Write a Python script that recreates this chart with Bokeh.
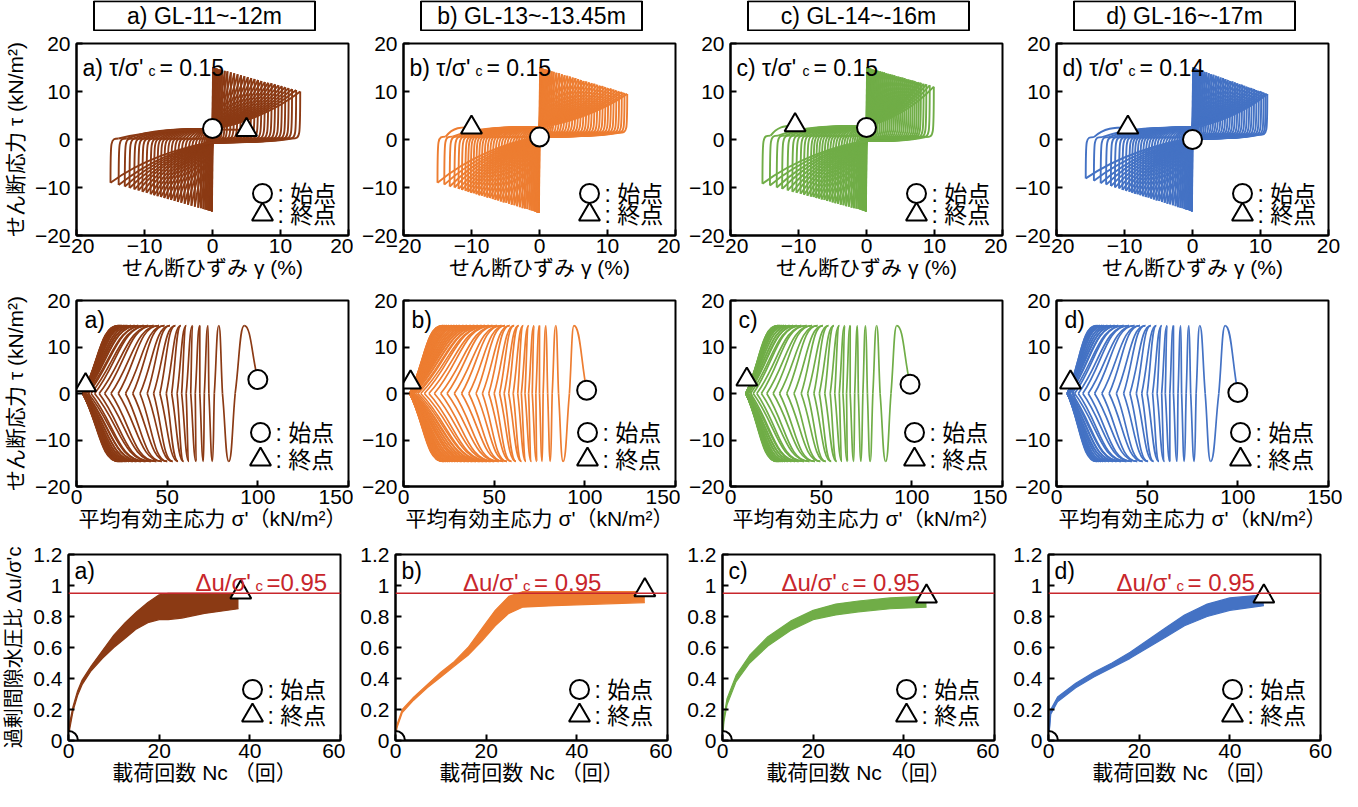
import numpy as np
from bokeh.plotting import figure
from bokeh.layouts import row, column
from bokeh.models import FixedTicker, CustomJSTickFormatter, Label, Span
from bokeh.core.properties import value
from bokeh.embed import file_html
from bokeh.resources import INLINE

# ---------------- data ----------------
headers = ["a) GL-11~-12m", "b) GL-13~-13.45m", "c) GL-14~-16m", "d) GL-16~-17m"]
tags = ["a)", "b)", "c)", "d)"]
stress_ratio = ["0.15", "0.15", "0.15", "0.14"]
colors = ["#8B3A14", "#ED7D31", "#70AD47", "#4472C4"]
RED = "#C8262C"

x1_ticks = [-20, -10, 0, 10, 20]
y12_ticks = [-20, -10, 0, 10, 20]
x2_ticks = [0, 50, 100, 150]
x3_ticks = [0, 20, 40, 60]
y3_ticks = [0, 0.2, 0.4, 0.6, 0.8, 1.0, 1.2]
du_limit = 0.95

# Row 1: shear stress - shear strain, peak of every loop (strain %, stress kN/m2)
gp_a = [0.08, 0.1, 0.12, 0.15, 0.2, 0.25, 0.3, 0.4, 0.5, 0.65, 0.85, 1.1, 1.4, 1.8, 2.2, 2.7, 3.2, 3.7, 4.2, 4.7, 5.2, 5.7, 6.2, 6.7, 7.2, 7.7, 8.2, 8.7, 9.2, 9.7, 10.2, 10.7, 11.2, 11.7, 12.3, 12.9]
tp_a = [15, 15, 15, 14.9, 14.9, 14.9, 14.9, 14.8, 14.8, 14.8, 14.7, 14.6, 14.5, 14.3, 14.2, 14.0, 13.8, 13.6, 13.4, 13.2, 13.0, 12.8, 12.6, 12.4, 12.2, 12.0, 11.8, 11.7, 11.5, 11.3, 11.1, 10.9, 10.7, 10.5, 10.3, 10.0]
gn_a = [-0.08, -0.1, -0.13, -0.17, -0.22, -0.28, -0.35, -0.45, -0.6, -0.8, -1.05, -1.35, -1.7, -2.1, -2.6, -3.1, -3.6, -4.1, -4.6, -5.1, -5.6, -6.1, -6.6, -7.1, -7.6, -8.1, -8.6, -9.1, -9.7, -10.3, -10.9, -11.5, -12.2, -12.9, -13.8, -15.0]
tn_a = [-15, -15, -14.9, -14.9, -14.9, -14.9, -14.9, -14.8, -14.8, -14.7, -14.6, -14.5, -14.3, -14.2, -14.0, -13.8, -13.6, -13.4, -13.2, -13.0, -12.8, -12.6, -12.4, -12.2, -12.0, -11.8, -11.6, -11.4, -11.1, -10.9, -10.6, -10.4, -10.1, -9.8, -9.5, -9.0]

gp_b = [0.08, 0.1, 0.12, 0.15, 0.2, 0.25, 0.3, 0.38, 0.48, 0.6, 0.75, 0.95, 1.2, 1.5, 1.8, 2.1, 2.5, 2.9, 3.3, 3.7, 4.1, 4.5, 4.9, 5.3, 5.7, 6.1, 6.5, 6.9, 7.3, 7.7, 8.1, 8.5, 8.9, 9.3, 9.7, 10.1, 10.5, 10.9, 11.3, 11.7, 12.1, 12.5, 12.9]
tp_b = [15, 15, 14.9, 14.9, 14.9, 14.9, 14.9, 14.8, 14.8, 14.7, 14.7, 14.6, 14.5, 14.4, 14.2, 14.1, 13.9, 13.8, 13.6, 13.4, 13.3, 13.1, 12.9, 12.8, 12.6, 12.4, 12.2, 12.1, 11.9, 11.7, 11.6, 11.4, 11.2, 11.1, 10.9, 10.7, 10.6, 10.4, 10.2, 10.0, 9.9, 9.7, 9.5]
gn_b = [-0.08, -0.1, -0.13, -0.17, -0.22, -0.28, -0.35, -0.44, -0.55, -0.7, -0.9, -1.15, -1.45, -1.8, -2.15, -2.5, -2.9, -3.3, -3.7, -4.1, -4.5, -4.9, -5.3, -5.7, -6.1, -6.5, -6.9, -7.3, -7.7, -8.1, -8.5, -8.9, -9.3, -9.7, -10.1, -10.5, -10.9, -11.4, -11.9, -12.5, -13.2, -14.0, -15.0]
tn_b = [-15.3, -15.3, -15.2, -15.2, -15.2, -15.2, -15.2, -15.1, -15.1, -15.0, -14.9, -14.8, -14.7, -14.5, -14.4, -14.3, -14.1, -13.9, -13.7, -13.6, -13.4, -13.2, -13.1, -12.9, -12.7, -12.6, -12.4, -12.2, -12.1, -11.9, -11.7, -11.6, -11.4, -11.2, -11.1, -10.9, -10.7, -10.5, -10.3, -10.0, -9.8, -9.4, -9.0]

gp_c = [0.08, 0.1, 0.12, 0.15, 0.2, 0.25, 0.3, 0.38, 0.48, 0.6, 0.75, 0.95, 1.2, 1.45, 1.7, 2.0, 2.3, 2.6, 2.9, 3.2, 3.5, 3.8, 4.1, 4.4, 4.7, 5.0, 5.3, 5.6, 5.9, 6.2, 6.5, 6.8, 7.1, 7.4, 7.7, 8.0, 8.4, 8.8, 9.3, 9.9]
tp_c = [15, 15, 15, 14.9, 14.9, 14.9, 14.9, 14.8, 14.8, 14.8, 14.7, 14.6, 14.5, 14.4, 14.3, 14.2, 14.1, 14.0, 13.8, 13.7, 13.6, 13.5, 13.4, 13.2, 13.1, 13.0, 12.9, 12.8, 12.6, 12.5, 12.4, 12.3, 12.2, 12.0, 11.9, 11.8, 11.6, 11.5, 11.3, 11.0]
gn_c = [-0.08, -0.1, -0.13, -0.17, -0.22, -0.28, -0.35, -0.45, -0.58, -0.75, -0.95, -1.2, -1.5, -1.85, -2.2, -2.6, -3.0, -3.4, -3.8, -4.2, -4.6, -5.0, -5.4, -5.8, -6.2, -6.6, -7.0, -7.4, -7.8, -8.2, -8.7, -9.2, -9.7, -10.3, -10.9, -11.6, -12.4, -13.2, -14.2, -15.3]
tn_c = [-15, -15, -15, -14.9, -14.9, -14.9, -14.9, -14.8, -14.8, -14.7, -14.6, -14.5, -14.4, -14.3, -14.2, -14.0, -13.9, -13.7, -13.6, -13.4, -13.3, -13.1, -12.9, -12.8, -12.6, -12.5, -12.3, -12.2, -12.0, -11.9, -11.7, -11.5, -11.3, -11.1, -10.9, -10.6, -10.3, -10.0, -9.6, -9.2]

gp_d = [0.08, 0.1, 0.12, 0.15, 0.2, 0.25, 0.3, 0.38, 0.48, 0.6, 0.75, 0.95, 1.2, 1.45, 1.75, 2.05, 2.4, 2.75, 3.1, 3.45, 3.8, 4.15, 4.5, 4.85, 5.2, 5.55, 5.9, 6.25, 6.6, 6.95, 7.3, 7.65, 8.0, 8.35, 8.7, 9.05, 9.4, 9.75, 10.1, 10.45, 10.75, 11.0]
tp_d = [15, 15, 14.9, 14.9, 14.9, 14.9, 14.9, 14.8, 14.8, 14.7, 14.6, 14.5, 14.4, 14.3, 14.1, 14.0, 13.8, 13.6, 13.5, 13.3, 13.1, 12.9, 12.8, 12.6, 12.4, 12.2, 12.1, 11.9, 11.7, 11.5, 11.4, 11.2, 11.0, 10.8, 10.7, 10.5, 10.3, 10.1, 10.0, 9.8, 9.6, 9.5]
gn_d = [-0.08, -0.1, -0.13, -0.17, -0.22, -0.28, -0.35, -0.45, -0.58, -0.75, -0.95, -1.2, -1.5, -1.8, -2.15, -2.5, -2.9, -3.3, -3.7, -4.1, -4.5, -4.9, -5.3, -5.7, -6.1, -6.5, -6.9, -7.3, -7.7, -8.1, -8.5, -8.9, -9.3, -9.8, -10.3, -10.8, -11.4, -12.0, -12.7, -13.5, -14.5, -15.7]
tn_d = [-15, -15, -14.9, -14.9, -14.9, -14.9, -14.8, -14.8, -14.7, -14.7, -14.6, -14.5, -14.3, -14.2, -14.1, -13.9, -13.7, -13.5, -13.4, -13.2, -13.0, -12.8, -12.7, -12.5, -12.3, -12.1, -12.0, -11.8, -11.6, -11.4, -11.3, -11.1, -10.9, -10.7, -10.5, -10.2, -10.0, -9.7, -9.4, -9.1, -8.6, -8.1]

start1 = [(0, 2.3), (0, 0.5), (0, 2.5), (0, 0.0)]
end1 = [(5, 2.0), (-10, 2.5), (-10.5, 3.0), (-9.5, 2.5)]
slide_load = [2.2, 2.6, 2.8, 2.5]
slide_unload = [-0.6, 0.6, -0.3, 0.2]

# Row 2: stress path, mean effective stress at each stress peak (alternating +/-) and at each tau=0 crossing
tau_peak = 14.6
peaks_a = [92.5, 84, 78.5, 75, 72.5, 70, 68, 66, 64, 62, 60.5, 59, 57.5, 56, 54.5, 53, 51.5, 50, 48.5, 47, 45.5, 44, 42.5, 41, 39.5, 38, 37, 35.5, 34, 33, 32, 31, 30, 29, 28, 27.5, 27, 26.5, 26, 25.5, 25, 25, 24.5, 24.5, 24, 24, 23.5, 23.5, 23, 23]
cross_a = [87.5, 80.5, 76, 73, 70.5, 68, 65.5, 63, 60.5, 58, 55.5, 52.5, 49.5, 46, 42.5, 39, 35, 31, 27, 23, 19, 15.5, 12.5, 10, 8, 6.5, 5.5, 5, 4.5, 4.5, 4, 4, 4, 4, 4, 4, 3.5, 3.5, 3.5, 3.5, 3.5, 3.5, 3.5, 3.5, 3.5, 3.5, 3.5, 3.5, 3.5]
peaks_b = [94, 88, 84, 81, 78.5, 76.5, 75, 73.5, 72, 70.5, 69, 67.5, 66, 65, 63.5, 62, 61, 59.5, 58.5, 57, 56, 55, 54, 52.5, 51.5, 50, 49, 48, 47, 46, 45, 44, 43, 42, 41, 40, 39, 38, 37, 36, 35, 34, 33, 32, 31, 30, 29.5, 28.5, 28, 27, 26.5, 25.5, 25, 24.5, 24, 23.5, 23, 22.5, 22, 22, 21.5, 21.5]
cross_b = [91.5, 85.5, 82, 79.5, 77, 75, 73, 71, 69, 67, 65, 63, 60.5, 58, 55.5, 53, 50, 47, 43.5, 40, 36, 32, 28, 24, 20.5, 17, 14, 11.5, 9.5, 8, 7, 6, 5.5, 5, 4.5, 4.5, 4, 4, 4, 4, 3.5, 3.5, 3.5, 3.5, 3.5, 3.5, 3.5, 3.5, 3.5, 3.5, 3.5, 3.5, 3.5, 3.5, 3.5, 3.5, 3.5, 3.5, 3.5, 3.5, 3.5]
peaks_c = [91.7, 85.6, 80.6, 77, 74.5, 72, 70, 68, 66, 64.5, 63, 61.5, 60, 58.5, 57, 55.5, 54, 52.5, 51, 49.5, 48, 46.5, 45, 43.5, 42, 40.5, 39, 37.5, 36.5, 35.5, 34.5, 33.5, 32.5, 31.5, 30.5, 30, 29.5, 29, 28.5, 28, 27.5, 27, 27, 26.5, 26.5, 26, 26, 25.5]
cross_c = [88.5, 82.5, 78.5, 75.5, 73, 70.5, 68.5, 66, 64, 62, 60, 57.5, 55, 52, 49, 46, 42.5, 39, 35, 31, 27, 23.5, 20, 17, 14.5, 12.5, 11, 10, 9.5, 9, 9, 8.5, 8.5, 8.5, 8.5, 8.5, 8.5, 8.5, 8.5, 8.5, 8.5, 8.5, 8.5, 8.5, 8.5, 8.5, 8.5]
peaks_d = [93, 85, 79, 76, 73, 70.5, 68.5, 66.5, 64.5, 62.5, 61, 59.5, 58, 56.5, 55, 53.5, 52, 50.5, 49, 47.5, 46, 44.5, 43, 41.5, 40, 38.5, 37, 35.5, 34, 33, 32, 31, 30, 29, 28, 27, 26, 25.5, 25, 24.5, 24, 23.5, 23, 22.5, 22, 22]
cross_d = [89.5, 82, 77, 74, 71.5, 69, 67, 64.5, 62.5, 60, 58, 55.5, 53, 50, 47, 44, 40.5, 37, 33, 29, 25, 21, 17.5, 14.5, 12, 10, 8.5, 7.5, 7, 6.5, 6, 6, 6, 6, 6, 6, 6, 6, 6, 6, 6, 6, 6, 6, 6]
start2 = [(100, 3.0), (101, 0.7), (99, 2.0), (100, 0.2)]
end2 = [(5, 1.8), (3.9, 2.4), (9, 3.0), (7.7, 2.4)]

# Row 3: excess pore water pressure ratio, envelope of the oscillating record
n_a = [0, 0.3, 1, 2, 3, 5, 7.5, 10, 12.5, 15, 17.5, 20, 22, 25, 30, 37.5]
up_a = [0, 0.12, 0.22, 0.32, 0.39, 0.48, 0.58, 0.68, 0.76, 0.83, 0.89, 0.94, 0.95, 0.95, 0.95, 0.95]
lo_a = [0, 0.08, 0.19, 0.29, 0.36, 0.45, 0.53, 0.60, 0.66, 0.72, 0.76, 0.78, 0.78, 0.79, 0.82, 0.85]
n_b = [0, 0.3, 1.5, 4, 7, 10, 13, 16, 19, 22, 25, 28, 35, 45, 55]
up_b = [0, 0.1, 0.2, 0.28, 0.36, 0.44, 0.51, 0.6, 0.72, 0.84, 0.93, 0.96, 0.96, 0.96, 0.96]
lo_b = [0, 0.08, 0.18, 0.26, 0.34, 0.41, 0.48, 0.55, 0.64, 0.74, 0.82, 0.86, 0.87, 0.88, 0.89]
n_c = [0, 0.3, 1, 3, 6, 10, 15, 20, 25, 30, 37, 45]
up_c = [0, 0.15, 0.27, 0.42, 0.55, 0.67, 0.77, 0.84, 0.88, 0.9, 0.92, 0.93]
lo_c = [0, 0.12, 0.23, 0.38, 0.5, 0.61, 0.71, 0.78, 0.81, 0.83, 0.85, 0.86]
n_d = [0, 0.5, 2, 6, 10, 14, 18, 22, 26, 30, 35, 40, 47.5]
up_d = [0, 0.2, 0.28, 0.37, 0.44, 0.5, 0.57, 0.65, 0.73, 0.81, 0.88, 0.92, 0.94]
lo_d = [0, 0.17, 0.25, 0.34, 0.41, 0.47, 0.53, 0.6, 0.67, 0.74, 0.8, 0.84, 0.87]
end3 = [(38, 0.955), (55, 0.97), (45, 0.93), (47.5, 0.93)]
du_label_n = [28, 14.9, 13, 15]
du_eq = ["=0.95", "= 0.95", "= 0.95", "= 0.95"]

G1 = [(gp_a, tp_a, gn_a, tn_a), (gp_b, tp_b, gn_b, tn_b), (gp_c, tp_c, gn_c, tn_c), (gp_d, tp_d, gn_d, tn_d)]
P2 = [(peaks_a, cross_a), (peaks_b, cross_b), (peaks_c, cross_c), (peaks_d, cross_d)]
R3 = [(n_a, up_a, lo_a), (n_b, up_b, lo_b), (n_c, up_c, lo_c), (n_d, up_d, lo_d)]

# ---------------- layout / style ----------------
FONT = "'Liberation Sans', 'Noto Sans CJK JP', sans-serif"
W = 272
LB = [68, 50, 50, 49]
RB = [5, 5, 5, 14]
FL = [76, 403, 730, 1056]  # frame left on the page
H1, H2, H3 = 192, 186, 186
TOTAL_W = sum(LB) + 4 * W + sum(RB)


def make_fig(ci, H, top, bottom, xr, yr):
    p = figure(frame_width=W, frame_height=H, x_range=xr, y_range=yr,
               output_backend="svg", toolbar_location=None, tools="",
               min_border_left=LB[ci], min_border_right=RB[ci],
               min_border_top=top, min_border_bottom=bottom)
    p.title.visible = False
    p.xgrid.visible = False
    p.ygrid.visible = False
    p.outline_line_color = "black"
    p.outline_line_width = 2
    p.outline_line_alpha = 1
    p.background_fill_color = "white"
    p.border_fill_color = "white"
    return p


def style_axes(p, xt, yt, xlabel, ylabel):
    p.xaxis.ticker = FixedTicker(ticks=xt)
    p.yaxis.ticker = FixedTicker(ticks=yt)
    for ax in list(p.xaxis) + list(p.yaxis):
        ax.major_tick_in = 6
        ax.major_tick_out = 0
        ax.minor_tick_line_color = None
        ax.axis_line_width = 2
        ax.major_tick_line_width = 2
        ax.major_label_text_font = FONT
        ax.major_label_text_font_size = "21px"
        ax.major_label_text_color = "black"
        ax.axis_label_text_font = FONT
        ax.axis_label_text_font_size = "21px"
        ax.axis_label_text_font_style = "normal"
        ax.axis_label_text_color = "black"
    p.xaxis.major_label_standoff = 3
    p.xaxis.axis_label_standoff = 0
    p.yaxis.major_label_standoff = 6
    p.yaxis.axis_label_standoff = 5
    p.xaxis.axis_label = xlabel
    if ylabel:
        p.yaxis.axis_label = ylabel


def pos(xr, yr, H, px, py):
    return xr[0] + px * (xr[1] - xr[0]) / W, yr[1] - py * (yr[1] - yr[0]) / H


def label(p, x, y, text, size, color="black", xo=0, align="left", baseline="middle"):
    p.add_layout(Label(x=x, y=y, text=text, text_font=FONT, text_font_size=f"{size}px",
                       text_color=color, x_offset=xo, text_align=align, text_baseline=baseline))


def legend(p, xr, yr, H, px, py1, py2):
    x, y1 = pos(xr, yr, H, px, py1)
    _, y2 = pos(xr, yr, H, px, py2)
    p.scatter([x], [y1], marker="circle", size=19, fill_color="white", line_color="black", line_width=2)
    p.scatter([x], [y2], marker="triangle", size=21, fill_color="white", line_color="black", line_width=2)
    label(p, x, y1, ":  始点", 23, xo=15)
    label(p, x, y2, ":  終点", 23, xo=15)


def start_end(p, s, e):
    p.scatter([s[0]], [s[1]], marker="circle", size=19, fill_color="white", line_color="black", line_width=2)
    p.scatter([e[0]], [e[1]], marker="triangle", size=21, fill_color="white", line_color="black", line_width=2)


class Path:
    def __init__(self):
        self.b = {k: [] for k in ("x0", "y0", "x1", "y1", "cx0", "cy0", "cx1", "cy1")}

    def bez(self, p0, c0, c1, p1):
        for k, v in zip(("x0", "y0", "cx0", "cy0", "cx1", "cy1", "x1", "y1"), (*p0, *c0, *c1, *p1)):
            self.b[k].append(v)

    def draw(self, p, color, width):
        p.bezier(line_color=color, line_width=width, **self.b)


def loops_row1(gp, tp, gn, tn, a, b, start, end):
    path = Path()

    def curve(s, P):
        path.bez(s, (s[0] + 0.3 * (P[0] - s[0]), s[1] + 0.1 * (P[1] - s[1])),
                 (s[0] + 0.7 * (P[0] - s[0]), s[1] + 0.45 * (P[1] - s[1])), P)

    def turn(P, lvl, band, direction):
        r = min(1.2, 0.3 * abs(P[0]) + 0.05)
        q = (P[0] + direction * r, lvl + band)
        path.bez(P, (P[0], lvl + band), (P[0], lvl + band), q)
        if q[0] * direction < 0:
            x = q[0]
            path.bez(q, (x * 0.7, lvl), (x * 0.4, lvl), (0, lvl))
            return (0, lvl)
        return q

    n = len(gp)
    curve(start, (gp[0], tp[0]))
    for k in range(n):
        s = turn((gp[k], tp[k]), b, 0.8, -1)
        curve(s, (gn[k], tn[k]))
        if k + 1 < n:
            s = turn((gn[k], tn[k]), a, -2.0, 1)
            curve(s, (gp[k + 1], tp[k + 1]))
    r = min(1.2, 0.3 * abs(gn[-1]) + 0.05)
    q = (gn[-1] + r, a - 2.0)
    path.bez((gn[-1], tn[-1]), (gn[-1], a - 2.0), (gn[-1], a - 2.0), q)
    path.bez(q, (q[0] + 0.3 * (end[0] - q[0]), a), (q[0] + 0.6 * (end[0] - q[0]), a), end)
    return path


def path_row2(peaks, cross, start, end):
    path = Path()
    n = min(len(peaks), len(cross) + 1)

    def c2p(c, P):
        path.bez(c, (c[0] + 0.45 * (P[0] - c[0]), c[1] + 0.45 * (P[1] - c[1])),
                 (P[0] + 0.5 * (c[0] - P[0]), P[1]), P)

    def p2c(P, c):
        path.bez(P, (P[0] + 0.5 * (c[0] - P[0]), P[1]),
                 (c[0] + 0.45 * (P[0] - c[0]), c[1] + 0.45 * (P[1] - c[1])), c)

    prev = start
    for i in range(n):
        P = (peaks[i], tau_peak if i % 2 == 0 else -tau_peak)
        c2p(prev, P)
        nxt = (cross[i], 0.0) if i < n - 1 else end
        p2c(P, nxt)
        prev = nxt
    return path


# header strip with the four depth boxes
HDR_H = 31
hdr = figure(frame_width=TOTAL_W, frame_height=HDR_H, x_range=(0, TOTAL_W), y_range=(0, HDR_H),
             output_backend="svg", toolbar_location=None, tools="", x_axis_type=None, y_axis_type=None,
             min_border_left=0, min_border_right=0, min_border_top=0, min_border_bottom=0)
hdr.title.visible = False
hdr.outline_line_color = None
hdr.xgrid.visible = False
hdr.ygrid.visible = False
hcx = [FL[i] - 8 + W / 2 for i in range(4)]
hdr.quad(left=[c - 110.5 for c in hcx], right=[c + 110.5 for c in hcx], bottom=[1.0] * 4, top=[30.2] * 4,
         fill_color="white", line_color="black", line_width=2)
hdr.text(x=hcx, y=[15.8] * 4, text=headers, text_font=value(FONT), text_font_size="23px",
         text_align="center", text_baseline="middle", text_color="black")

rows = [[], [], []]
for ci in range(4):
    col = colors[ci]
    # ---------- row 1 ----------
    xr, yr = (-20, 20), (-20, 20)
    p = make_fig(ci, H1, 12, 53, xr, yr)
    style_axes(p, x1_ticks, y12_ticks, "せん断ひずみ γ (%)", "せん断応力 τ (kN/m²)" if ci == 0 else None)
    gp, tp, gn, tn = G1[ci]
    loops_row1(gp, tp, gn, tn, slide_load[ci], slide_unload[ci], start1[ci], end1[ci]).draw(p, col, 1.9)
    start_end(p, start1[ci], end1[ci])
    legend(p, xr, yr, H1, 186, 150, 171)
    tx, ty = pos(xr, yr, H1, 6, 24)
    label(p, tx, ty, tags[ci] + " τ/σ'", 23, baseline="alphabetic")
    label(p, tx, ty - 0.7, "c", 14, xo=66, baseline="alphabetic")
    label(p, tx, ty, "= " + stress_ratio[ci], 23, xo=77, baseline="alphabetic")
    rows[0].append(p)

    # ---------- row 2 ----------
    xr, yr = (0, 150), (-20, 20)
    p = make_fig(ci, H2, 12, 54, xr, yr)
    style_axes(p, x2_ticks, y12_ticks, "平均有効主応力 σ'（kN/m²）", "せん断応力 τ (kN/m²)" if ci == 0 else None)
    pk, cr = P2[ci]
    path_row2(pk, cr, start2[ci], end2[ci]).draw(p, col, 1.7)
    start_end(p, start2[ci], end2[ci])
    legend(p, xr, yr, H2, 184, 132, 159)
    tx, ty = pos(xr, yr, H2, 8, 19)
    label(p, tx, ty, tags[ci], 23)
    rows[1].append(p)

    # ---------- row 3 ----------
    xr, yr = (0, 60), (0, 1.2)
    p = make_fig(ci, H3, 14, 51, xr, yr)
    style_axes(p, x3_ticks, y3_ticks, "載荷回数 Nc （回）", "過剰間隙水圧比 Δu/σ'c" if ci == 0 else None)
    p.yaxis.axis_label_text_font_size = "20px"
    p.yaxis.formatter = CustomJSTickFormatter(code="return String(Math.round(tick*10)/10);")
    nn, up, lo = R3[ci]
    p.varea(x=nn, y1=lo, y2=up, fill_color=col)
    p.line(nn, up, line_color=col, line_width=1.2)
    p.line(nn, lo, line_color=col, line_width=1.2)
    p.add_layout(Span(location=du_limit, dimension="width", line_color=RED, line_width=1.6))
    start_end(p, (0, 0), end3[ci])
    legend(p, xr, yr, H3, 184, 135, 161)
    tx, ty = pos(xr, yr, H3, 6, 16)
    label(p, tx, ty, tags[ci], 23)
    ly = yr[1] - 28 * (yr[1] - yr[0]) / H3
    label(p, du_label_n[ci], ly, "Δu/σ'", 24, RED, baseline="alphabetic")
    label(p, du_label_n[ci], ly - 0.018, "c", 15, RED, xo=60, baseline="alphabetic")
    label(p, du_label_n[ci], ly, du_eq[ci], 24, RED, xo=71, baseline="alphabetic")
    rows[2].append(p)

layout = column(hdr, *[row(*r, spacing=0) for r in rows], spacing=0)
open("out.html", "w").write(file_html(layout, INLINE))
